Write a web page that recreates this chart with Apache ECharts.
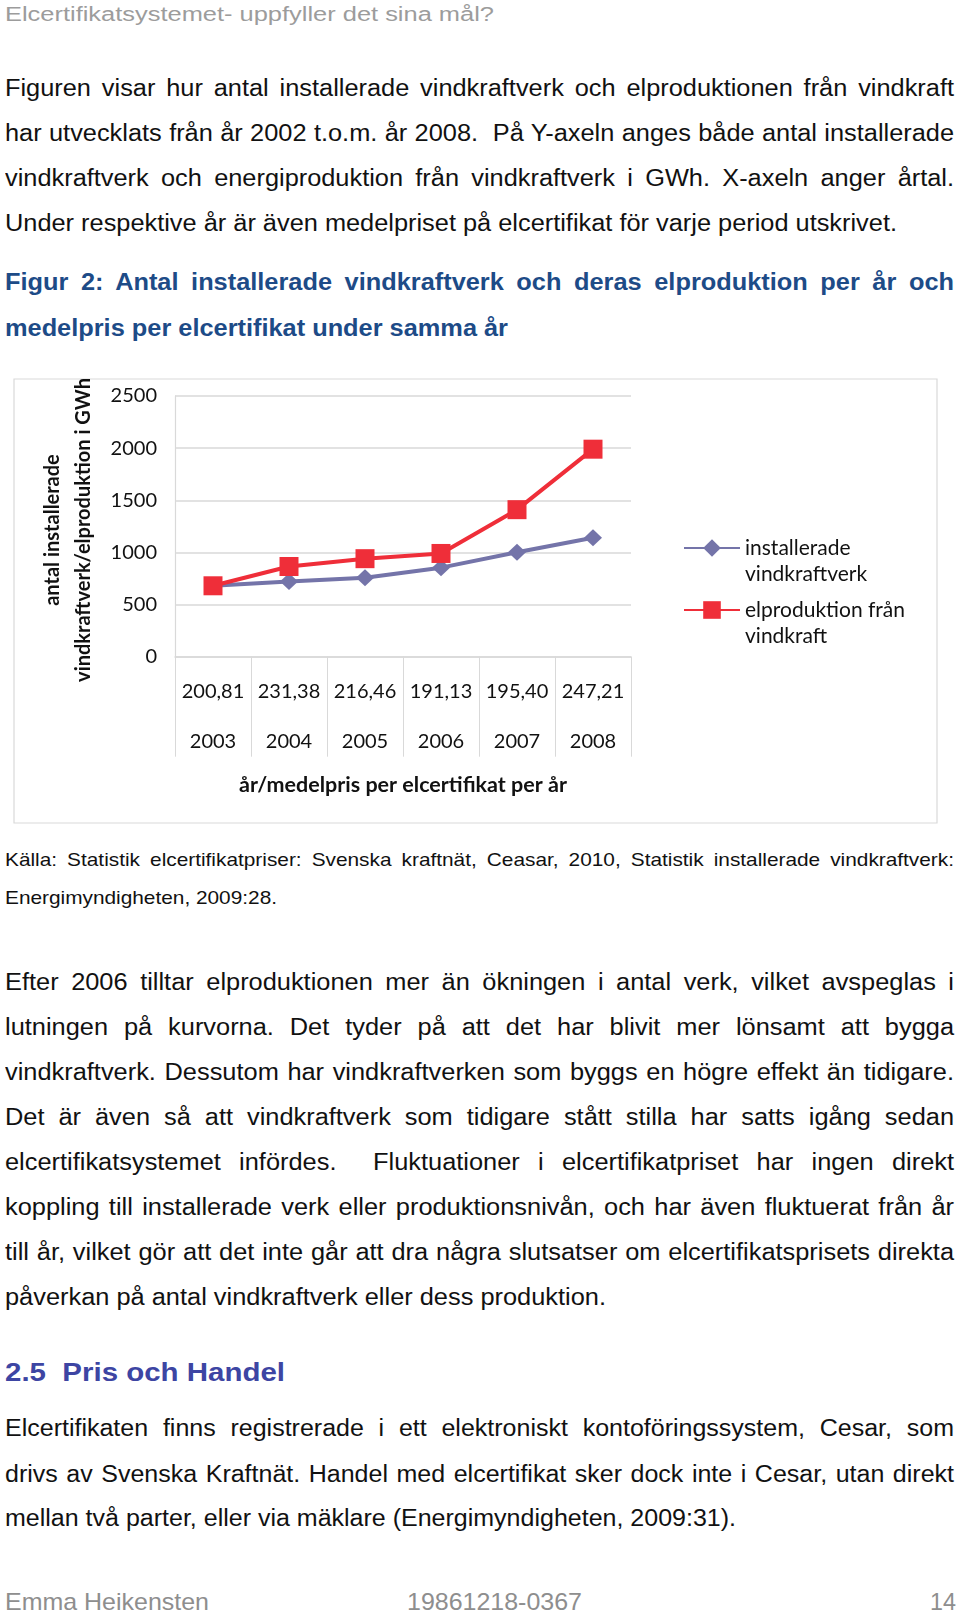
<!DOCTYPE html>
<html><head><meta charset="utf-8">
<script src="https://cdn.jsdelivr.net/npm/echarts@6/dist/echarts.min.js"></script>
<style>
html,body{margin:0;padding:0;background:#fff;}
#page{position:relative;width:960px;height:1612px;overflow:hidden;background:#fff;}
.ln{position:absolute;white-space:pre;font-family:"Liberation Sans",Arial,sans-serif;transform-origin:0 50%;}
#chart{position:absolute;left:0;top:370px;width:960px;height:470px;}
</style></head><body><div id="page"><div id="chart"></div></div>
<script>
// ---- chart data ----
const years = ['2003', '2004', '2005', '2006', '2007', '2008'];
const prices = ['200,81', '231,38', '216,46', '191,13', '195,40', '247,21'];
const installedTurbines = [680, 720, 758, 854, 1001, 1141];
const windProductionGWh = [680, 865, 940, 990, 1410, 1990];
const yMin = 0, yMax = 2500, yStep = 500;
const seriesNames = ['installerade vindkraftverk', 'elproduktion från vindkraft'];
const legendLabels = ['installerade\nvindkraftverk', 'elproduktion från\nvindkraft'];
const yTitleLines = ['antal installerade', 'vindkraftverk/elproduktion i GWh'];
const xTitle = 'år/medelpris per elcertifikat per år';

// ---- page text ----
const headerText = 'Elcertifikatsystemet- uppfyller det sina mål?';
const para1 = [
  'Figuren visar hur antal installerade vindkraftverk och elproduktionen från vindkraft',
  'har utvecklats från år 2002 t.o.m. år 2008.  På Y-axeln anges både antal installerade',
  'vindkraftverk och energiproduktion från vindkraftverk i GWh. X-axeln anger årtal.',
  'Under respektive år är även medelpriset på elcertifikat för varje period utskrivet.'
];
const caption = [
  'Figur 2: Antal installerade vindkraftverk och deras elproduktion per år och',
  'medelpris per elcertifikat under samma år'
];
const source = [
  'Källa: Statistik elcertifikatpriser: Svenska kraftnät, Ceasar, 2010, Statistik installerade vindkraftverk:',
  'Energimyndigheten, 2009:28.'
];
const para2 = [
  'Efter 2006 tilltar elproduktionen mer än ökningen i antal verk, vilket avspeglas i',
  'lutningen på kurvorna. Det tyder på att det har blivit mer lönsamt att bygga',
  'vindkraftverk. Dessutom har vindkraftverken som byggs en högre effekt än tidigare.',
  'Det är även så att vindkraftverk som tidigare stått stilla har satts igång sedan',
  'elcertifikatsystemet infördes.  Fluktuationer i elcertifikatpriset har ingen direkt',
  'koppling till installerade verk eller produktionsnivån, och har även fluktuerat från år',
  'till år, vilket gör att det inte går att dra några slutsatser om elcertifikatsprisets direkta',
  'påverkan på antal vindkraftverk eller dess produktion.'
];
const headingText = '2.5  Pris och Handel';
const para3 = [
  'Elcertifikaten finns registrerade i ett elektroniskt kontoföringssystem, Cesar, som',
  'drivs av Svenska Kraftnät. Handel med elcertifikat sker dock inte i Cesar, utan direkt',
  'mellan två parter, eller via mäklare (Energimyndigheten, 2009:31).'
];
const footer = ['Emma Heikensten', '19861218-0367', '14'];

const page = document.getElementById('page');
function mk(text, style, x, cy) {
  const d = document.createElement('div');
  d.className = 'ln';
  d.textContent = text;
  d.style.fontSize = style.size + 'px';
  d.style.color = style.color;
  d.style.fontWeight = style.bold ? 'bold' : 'normal';
  const lh = Math.round(style.size * 1.3);
  d.style.lineHeight = lh + 'px';
  d.style.left = x + 'px';
  d.style.top = (cy - lh / 2) + 'px';
  page.appendChild(d);
  return d;
}
// paragraph: lines justified to rightEdge, last line fit to lastRight
function paragraph(lines, style, x, ys, rightEdge, lastRight) {
  const els = lines.map((t, i) => mk(t, style, x, ys[i]));
  const last = els[els.length - 1];
  const lw = last.getBoundingClientRect().width;
  const K = (lastRight - x) / lw;
  last.style.transform = 'scaleX(' + K + ')';
  els.slice(0, -1).forEach(el => {
    const w = el.getBoundingClientRect().width;
    const n = (el.textContent.match(/ /g) || []).length;
    const extra = (rightEdge - x) - w * K;
    el.style.wordSpacing = (extra / (n * K)) + 'px';
    el.style.transform = 'scaleX(' + K + ')';
  });
}
function single(text, style, x, cy, right) {
  const el = mk(text, style, x, cy);
  const w = el.getBoundingClientRect().width;
  el.style.transform = 'scaleX(' + ((right - x) / w) + ')';
}
const S = {
  header: {size: 19.5, color: '#9c9c9c'},
  body: {size: 23, color: '#111'},
  caption: {size: 23, color: '#1d4b87', bold: true},
  source: {size: 18.6, color: '#111'},
  heading: {size: 26.5, color: '#3d45a3', bold: true},
  footer: {size: 24, color: '#8e8e8e'}
};
single(headerText, S.header, 5, 14, 494);
paragraph(para1, S.body, 5, [88, 133, 178, 223], 954, 897);
paragraph(caption, S.caption, 5, [282, 328], 954, 508);
paragraph(source, S.source, 5, [860, 898], 954, 277);
paragraph(para2, S.body, 5, [982, 1027, 1072, 1117, 1162, 1207, 1252, 1297], 954, 606);
single(headingText, S.heading, 5, 1372, 285);
paragraph(para3, S.body, 5, [1428, 1474, 1518], 954, 736);
single(footer[0], S.footer, 5, 1601, 209);
single(footer[1], S.footer, 407, 1601, 582);
single(footer[2], S.footer, 930, 1601, 956);

// ---- chart ----
const FONT = 'Lato';
const BLUE = '#7474a9';
const RED = '#ef2e39';
const GRID = '#d9d9d9';
const chart = echarts.init(document.getElementById('chart'));
const legendCommon = {
  orient: 'vertical', left: 683, padding: 0, itemWidth: 56, itemHeight: 22,
  textStyle: {fontFamily: FONT, fontSize: 21, lineHeight: 26, color: '#111'},
  formatter: name => '\n' + legendLabels[seriesNames.indexOf(name)]
};
chart.setOption({
  animation: false,
  textStyle: {fontFamily: FONT},
  graphic: [
    {type: 'rect', shape: {x: 14, y: 9, width: 923, height: 444}, style: {fill: 'none', stroke: GRID, lineWidth: 1.2}, silent: true},
    {type: 'text', x: 68.5, y: 160, rotation: Math.PI / 2,
      style: {text: yTitleLines.join('\n'), font: 'bold 20px ' + FONT, lineHeight: 31, fill: '#111', align: 'center', verticalAlign: 'middle'}}
  ],
  grid: {left: 175, right: 329, top: 26, height: 260.7, containLabel: false},
  legend: [
    Object.assign({}, legendCommon, {top: 139, data: [seriesNames[0]]}),
    Object.assign({}, legendCommon, {top: 201, data: [seriesNames[1]]})
  ],
  xAxis: {
    type: 'category', data: years, boundaryGap: true,
    axisLine: {show: true, lineStyle: {color: GRID, width: 1.5}},
    axisTick: {show: true, length: 100, interval: 0, lineStyle: {color: GRID, width: 1}},
    axisLabel: {interval: 0, margin: 10, color: '#111', fontSize: 20, lineHeight: 50, fontFamily: FONT,
      formatter: (v, i) => prices[i] + '\n' + v},
    name: xTitle, nameLocation: 'middle', nameGap: 117,
    nameTextStyle: {fontFamily: FONT, fontWeight: 'bold', fontSize: 21.5, color: '#111'}
  },
  yAxis: {
    type: 'value', min: yMin, max: yMax, interval: yStep,
    axisLine: {show: true, lineStyle: {color: GRID, width: 1.2}},
    axisTick: {show: false},
    splitLine: {lineStyle: {color: GRID, width: 1.5}},
    axisLabel: {margin: 18, fontSize: 20, color: '#111', fontFamily: FONT, formatter: v => String(v)}
  },
  series: [
    {name: seriesNames[0], type: 'line', data: installedTurbines, symbol: 'diamond', symbolSize: [18, 17],
      lineStyle: {width: 4, color: BLUE}, itemStyle: {color: BLUE}, z: 2},
    {name: seriesNames[1], type: 'line', data: windProductionGWh, symbol: 'rect', symbolSize: 19,
      lineStyle: {width: 4, color: RED}, itemStyle: {color: RED}, z: 3}
  ]
});
</script></body></html>
